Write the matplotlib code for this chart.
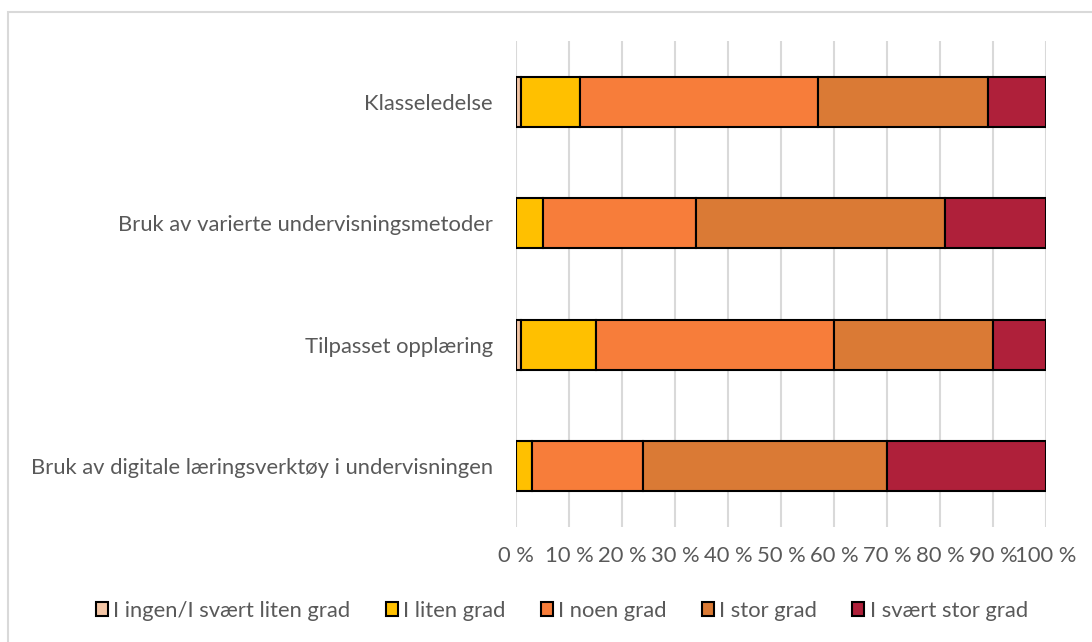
import matplotlib
matplotlib.use("Agg")
import matplotlib.pyplot as plt
from matplotlib.patches import Rectangle
import numpy as np

categories = ["Klasseledelse",
              "Bruk av varierte undervisningsmetoder",
              "Tilpasset opplæring",
              "Bruk av digitale læringsverktøy i undervisningen"]
series_names = ["I ingen/I svært liten grad", "I liten grad", "I noen grad",
                "I stor grad", "I svært stor grad"]
ingen = [1, 0, 1, 0]
liten = [11, 5, 14, 3]
noen = [45, 29, 45, 21]
stor = [32, 47, 30, 46]
svaert_stor = [11, 19, 10, 30]
xtick_labels = [f"{v} %" for v in range(0, 101, 10)]

colors = ["#F4C6A6", "#FFC000", "#F77D3A", "#DA7A35", "#AF203A"]
series = [ingen, liten, noen, stor, svaert_stor]

plt.rcParams['font.family'] = ['Lato', 'DejaVu Sans']
text_color = "#595959"
fs = 15.8

fig = plt.figure(figsize=(10.92, 6.42), dpi=100)
ax = fig.add_axes([516/1092, 1-527/642, (1046-516)/1092, (527-41)/642])

y = np.arange(len(categories))
left = np.zeros(len(categories))
for vals, col, name in zip(series, colors, series_names):
    vals = np.array(vals, dtype=float)
    ax.barh(y, vals, left=left, height=0.41, color=col, edgecolor="black",
            linewidth=1.5, label=name, zorder=3)
    left += vals

ax.set_ylim(3.5, -0.5)
ax.set_xlim(0, 100)
ax.set_xticks(range(0, 101, 10))
ax.set_xticklabels(xtick_labels)
ax.set_yticks(y)
ax.set_yticklabels(categories)
ax.xaxis.grid(True, color="#D9D9D9", linewidth=1.5, zorder=0)
ax.set_axisbelow(True)
for s in ax.spines.values():
    s.set_visible(False)
ax.tick_params(axis='both', length=0, colors=text_color, labelsize=fs)
ax.tick_params(axis='x', pad=14)
ax.tick_params(axis='y', pad=16.5)

handles = [Rectangle((0, 0), 1, 1, facecolor=c, edgecolor="black", linewidth=1.5) for c in colors]
leg = fig.legend(handles, series_names, loc="center", bbox_to_anchor=(562/1092, 1-611/642),
                 ncol=5, frameon=False, fontsize=fs, handlelength=0.55, handleheight=0.6,
                 handletextpad=0.25, columnspacing=1.6)
for t in leg.get_texts():
    t.set_color(text_color)

fig.patches.append(Rectangle((8/1092, -0.1), 1.2, 1 - 12/642 + 0.1, transform=fig.transFigure,
                             fill=False, edgecolor="#D9D9D9", linewidth=1.5))

fig.savefig("out.png", dpi=100)
